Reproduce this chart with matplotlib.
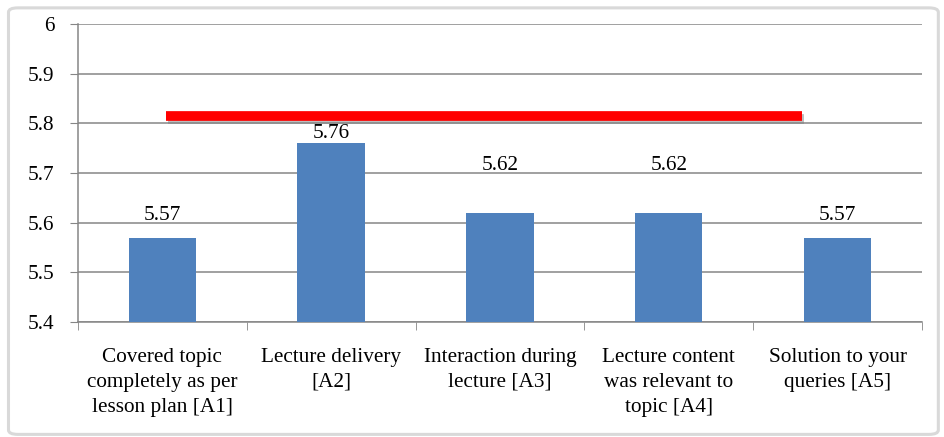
"""Mean feedback score per lecture question."""
import matplotlib
matplotlib.use("Agg")
import matplotlib.pyplot as plt
import matplotlib.patheffects as pe
from matplotlib.patches import FancyBboxPatch

categories = [
    "Covered topic\ncompletely as per\nlesson plan [A1]",
    "Lecture delivery\n[A2]",
    "Interaction during\nlecture [A3]",
    "Lecture content\nwas relevant to\ntopic [A4]",
    "Solution to your\nqueries [A5]",
]
scores = [5.57, 5.76, 5.62, 5.62, 5.57]
score_labels = ["5.57", "5.76", "5.62", "5.62", "5.57"]
target = 5.815
y_ticks = [5.4, 5.5, 5.6, 5.7, 5.8, 5.9, 6.0]
y_tick_labels = ["5.4", "5.5", "5.6", "5.7", "5.8", "5.9", "6"]

# label lift above each bar (data units), as placed in the original
label_lift = [0.045, 0.02, 0.095, 0.095, 0.045]

plt.rcParams['font.family'] = ['Liberation Serif', 'DejaVu Serif']
FS = 15.3

fig = plt.figure(figsize=(9.44, 4.37), dpi=100)
ax = fig.add_axes([0.0826, 0.2632, 0.894, 0.682])

border = FancyBboxPatch((0.009, 0.006), 0.985, 0.976,
                        boxstyle="round,pad=0,rounding_size=0.01",
                        transform=fig.transFigure, fill=False,
                        edgecolor="#d9d9d9", linewidth=2.2)
fig.patches.append(border)

x = list(range(len(scores)))
ax.bar(x, [s - 5.4 for s in scores], bottom=5.4, width=0.4,
       color="#4F81BD", zorder=3)

for xi, s, lab, lift in zip(x, scores, score_labels, label_lift):
    ax.text(xi, s + lift, lab, ha="center", va="center", fontsize=FS,
            zorder=4)

ax.hlines(target, 0.02, 3.79, color="#ff0000", linewidth=7, zorder=5,
          path_effects=[pe.SimpleLineShadow(offset=(1.5, -2.5),
                                            shadow_color="#7f7f7f",
                                            alpha=0.5),
                        pe.Normal()])

ax.set_xlim(-0.5, 4.5)
ax.set_ylim(5.4, 6.0)
ax.set_yticks(y_ticks)
ax.set_yticklabels(y_tick_labels, fontsize=FS)
ax.yaxis.grid(True, color="#868686", linewidth=1.1, zorder=0)
ax.set_axisbelow(True)

ax.set_xticks(x)
ax.set_xticklabels(categories, fontsize=FS, linespacing=1.4)
ax.set_xticks([i - 0.5 for i in range(len(scores) + 1)], minor=True)
ax.tick_params(axis="x", which="major", length=0, pad=19)
ax.tick_params(axis="x", which="minor", length=6, color="#868686")
ax.tick_params(axis="y", length=6, color="#868686", pad=11)

for side in ["top", "right"]:
    ax.spines[side].set_visible(False)
for side in ["left", "bottom"]:
    ax.spines[side].set_color("#868686")
    ax.spines[side].set_linewidth(1.1)

fig.savefig("out.png", dpi=100)
